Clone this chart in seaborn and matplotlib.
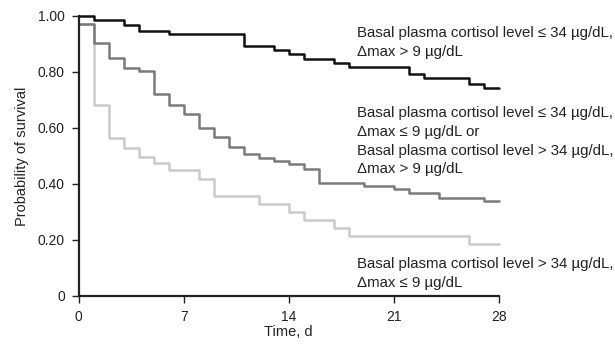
import pandas as pd
import matplotlib.pyplot as plt
import seaborn as sns

# ── Kaplan-Meier step values ─────────────────────────────────────────────────
# each group: event days and survival probability after that day
days_low_high = [0, 1, 3, 4, 6, 11, 13, 14, 15, 17, 18, 22, 23, 26, 27, 28]
surv_low_high = [1.00, 0.987, 0.968, 0.946, 0.936, 0.892, 0.879, 0.864, 0.846,
                 0.833, 0.816, 0.791, 0.777, 0.757, 0.744, 0.744]

days_mixed = [0, 1, 2, 3, 4, 5, 6, 7, 8, 9, 10, 11, 12, 13, 14, 15, 16,
              19, 21, 22, 24, 27, 28]
surv_mixed = [0.971, 0.905, 0.848, 0.814, 0.804, 0.720, 0.682, 0.651, 0.598,
              0.569, 0.530, 0.507, 0.494, 0.482, 0.472, 0.453, 0.402,
              0.392, 0.380, 0.369, 0.348, 0.337, 0.337]

days_high_low = [0, 1, 2, 3, 4, 5, 6, 8, 9, 12, 14, 15, 17, 18, 26, 28]
surv_high_low = [0.971, 0.682, 0.563, 0.527, 0.497, 0.474, 0.448, 0.416,
                 0.357, 0.329, 0.301, 0.270, 0.242, 0.212, 0.185, 0.185]

groups = ['high_low', 'mixed', 'low_high']
colors = {'low_high': '#111111', 'mixed': '#7a7a7a', 'high_low': '#cbcbcb'}

labels = {
    'low_high': 'Basal plasma cortisol level \u2264 34 \u00b5g/dL,\n'
                '\u0394max > 9 \u00b5g/dL',
    'mixed': 'Basal plasma cortisol level \u2264 34 \u00b5g/dL,\n'
             '\u0394max \u2264 9 \u00b5g/dL or\n'
             'Basal plasma cortisol level > 34 \u00b5g/dL,\n'
             '\u0394max > 9 \u00b5g/dL',
    'high_low': 'Basal plasma cortisol level > 34 \u00b5g/dL,\n'
                '\u0394max \u2264 9 \u00b5g/dL',
}
# label block centres (axes fraction)
label_y = {'low_high': 0.905, 'mixed': 0.552, 'high_low': 0.080}

df = pd.concat([
    pd.DataFrame({'day': days_high_low, 'surv': surv_high_low, 'group': 'high_low'}),
    pd.DataFrame({'day': days_mixed, 'surv': surv_mixed, 'group': 'mixed'}),
    pd.DataFrame({'day': days_low_high, 'surv': surv_low_high, 'group': 'low_high'}),
])

# ── Plot ─────────────────────────────────────────────────────────────────────
sns.set_style('ticks')
plt.rcParams['font.family'] = ['Liberation Sans', 'DejaVu Sans']
fs = 10

fig = plt.figure(figsize=(6.15, 3.46), dpi=100)
ax = fig.add_axes([0.128, 0.145, 0.683, 0.809])

for g in groups:
    sns.lineplot(data=df[df['group'] == g], x='day', y='surv',
                 drawstyle='steps-post', color=colors[g], linewidth=1.8,
                 estimator=None, ax=ax, clip_on=False, legend=False)
    ax.text(0.662, label_y[g], labels[g], transform=ax.transAxes,
            fontsize=10.8, va='center', ha='left', linespacing=1.42,
            color='#222222')

ax.set_xlim(0, 28)
ax.set_ylim(0, 1.0)
ax.set_xticks([0, 7, 14, 21, 28])
ax.set_yticks([0, 0.2, 0.4, 0.6, 0.8, 1.0])
ax.set_yticklabels(['0', '0.20', '0.40', '0.60', '0.80', '1.00'])
ax.tick_params(labelsize=fs, length=5, width=1, pad=5, colors='#222222')
ax.set_xlabel('Time, d', fontsize=10.5, color='#222222', labelpad=1)
ax.set_ylabel('Probability of survival', fontsize=10.5, color='#222222',
              labelpad=6)

sns.despine(ax=ax)
for side in ['left', 'bottom']:
    ax.spines[side].set_linewidth(1.6)
    ax.spines[side].set_color('#222222')

fig.savefig('out.png', dpi=100)
